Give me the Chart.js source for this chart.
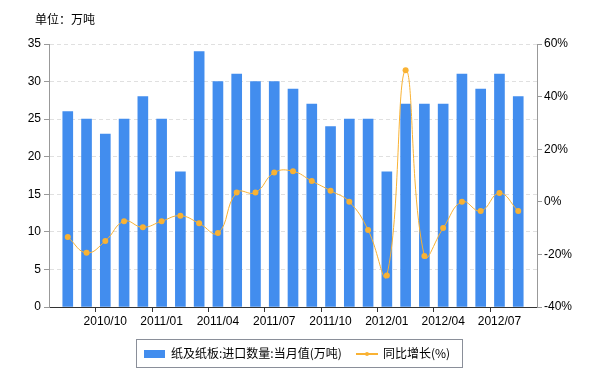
<!DOCTYPE html>
<html>
<head>
<meta charset="utf-8">
<script src="https://cdn.jsdelivr.net/npm/chart.js@4/dist/chart.umd.min.js"></script>
<style>
  html,body{margin:0;padding:0;background:#fff;}
  #wrap{position:relative;width:600px;height:380px;font-family:"Liberation Sans","Noto Sans CJK SC",Arial,sans-serif;}
  #title{position:absolute;left:35px;top:11px;font-size:12px;color:#000;font-family:"Noto Sans CJK SC","Liberation Sans",sans-serif;line-height:16px;}
  #legend{position:absolute;left:136px;top:339px;width:327px;height:29px;border:1px solid #8a8f99;box-sizing:border-box;font-size:12px;color:#000;font-family:"Noto Sans CJK SC","Liberation Sans",sans-serif;}
  .sw{position:absolute;}
  .lt{position:absolute;top:5px;line-height:16px;white-space:nowrap;}
</style>
</head>
<body>
<div id="wrap">
  <canvas id="c" width="600" height="380"></canvas>
  <div id="title">单位：万吨</div>
  <div id="legend">
    <div class="sw" style="left:7px;top:10px;width:21px;height:8px;background:#428DEE;"></div>
    <div class="lt" id="l1" style="left:34px;"></div>
    <div class="sw" style="left:219px;top:13px;width:22px;height:2px;background:#F9B233;"></div>
    <div class="sw" style="left:228px;top:12px;width:4px;height:4px;border-radius:2px;background:#F9B233;"></div>
    <div class="lt" id="l2" style="left:246px;"></div>
  </div>
</div>
<script>
const months = ["2010/08","2010/09","2010/10","2010/11","2010/12","2011/01","2011/02","2011/03","2011/04","2011/05","2011/06","2011/07","2011/08","2011/09","2011/10","2011/11","2011/12","2012/01","2012/02","2012/03","2012/04","2012/05","2012/06","2012/07","2012/08"];
const importVolume = [26,25,23,25,28,25,18,34,30,31,30,30,29,27,24,25,25,18,27,27,27,31,29,31,28];
const yoyGrowth = [-13.4,-19.4,-14.9,-7.4,-9.7,-7.4,-5.3,-8.2,-11.9,3.5,3.5,11.1,11.6,7.9,4.2,0,-10.7,-28,50,-20.6,-10,0,-3.5,3.3,-3.5];
const barName = "纸及纸板:进口数量:当月值(万吨)";
const lineName = "同比增长(%)";
const leftTicks = [0,5,10,15,20,25,30,35];
const rightTicks = [-40,-20,0,20,40,60];

document.getElementById('l1').textContent = barName;
document.getElementById('l2').textContent = lineName;

// pad one empty slot on each side
const labels = [""].concat(months, [""]);
const barData = [null].concat(importVolume, [null]);
const lineData = [null].concat(yoyGrowth, [null]);

function isShown(i){
  const l = labels[i];
  if(!l) return false;
  const m = l.split('/')[1];
  return m==="01"||m==="04"||m==="07"||m==="10";
}

const tickFont = {family:"'Liberation Sans', Arial, sans-serif", size:12};

new Chart(document.getElementById('c'), {
  type:'bar',
  data:{
    labels: labels,
    datasets:[
      {type:'line', label: lineName, data: lineData, yAxisID:'y1', borderColor:'#F9B233', backgroundColor:'#F9B233',
       borderWidth:1, pointRadius:3, pointHoverRadius:3, pointBackgroundColor:'#F9B233', pointBorderWidth:0, tension:0.45, order:0, spanGaps:false},
      {type:'bar', label: barName, data: barData, yAxisID:'y', backgroundColor:'#428DEE', barThickness:10, order:1}
    ]
  },
  options:{
    responsive:false,
    animation:false,
    events:[],
    layout:{padding:{top:44,left:0,right:0,bottom:0}},
    plugins:{legend:{display:false}, tooltip:{enabled:false}, title:{display:false}},
    scales:{
      x:{
        offset:false,
        afterFit(s){ s.height = 73; },
        grid:{display:true, drawOnChartArea:false, tickLength:5, tickColor:(ctx)=> (ctx.index===0||isShown(ctx.index))?'#333':'rgba(0,0,0,0)'},
        border:{color:'#333', width:1},
        ticks:{autoSkip:false, maxRotation:0, minRotation:0, color:'#000', font:tickFont, padding:2,
          callback:(v,i)=> isShown(i)?labels[i]:''}
      },
      y:{
        position:'left', min:0, max:35,
        afterFit(s){ s.width = 49; },
        afterBuildTicks(s){ s.ticks = leftTicks.map(v=>({value:v})); },
        grid:{color:'#e0e0e0', lineWidth:1, tickLength:5, tickColor:'#999', tickBorderDash:[]},
        border:{color:'#999', dash:[4,3], display:true},
        ticks:{color:'#000', font:tickFont, padding:3}
      },
      y1:{
        position:'right', min:-40, max:60,
        afterFit(s){ s.width = 63; },
        afterBuildTicks(s){ s.ticks = rightTicks.map(v=>({value:v})); },
        grid:{drawOnChartArea:false, tickLength:5, tickColor:'#999'},
        border:{color:'#999'},
        ticks:{color:'#000', font:tickFont, padding:2, callback:(v)=> v+'%'}
      }
    }
  }
});
</script>
</body>
</html>
